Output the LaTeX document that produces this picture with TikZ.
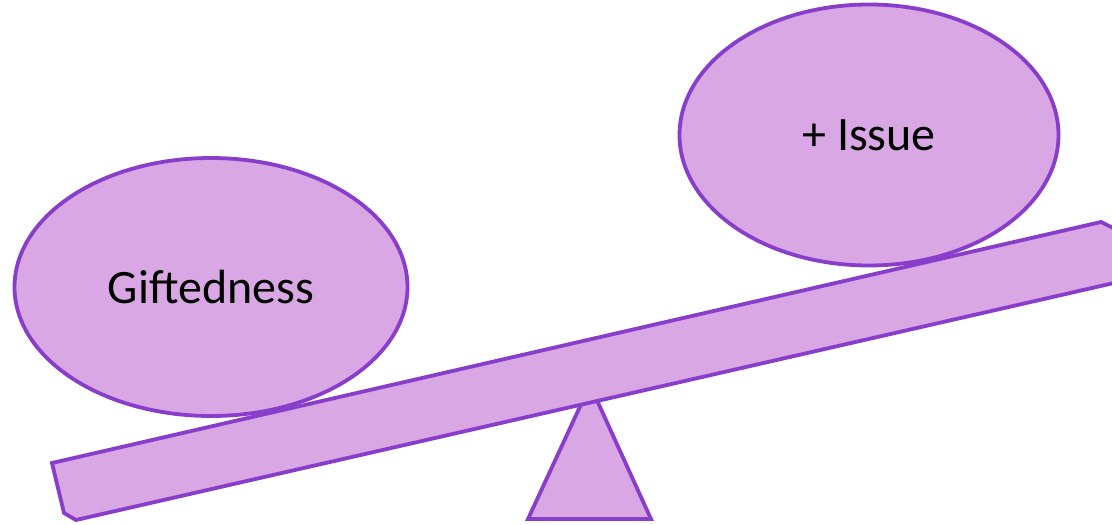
\documentclass[tikz,border=0pt]{standalone}
\usepackage{fontspec}
\setmainfont{Carlito}
\usetikzlibrary{shapes.geometric}
\definecolor{pfill}{RGB}{216,167,228}
\definecolor{pline}{RGB}{136,62,202}
\begin{document}
\begin{tikzpicture}[x=1pt,y=-1pt,
  shapestyle/.style={fill=pfill,draw=pline,line width=3.8pt,line join=miter},
  lbl/.style={font=\fontsize{48}{57}\selectfont,text=black}]
\useasboundingbox (0,0) rectangle (1112,525);
\clip (0,0) rectangle (1112,525);
% fulcrum
\path[shapestyle] (528,519) coordinate (t1) -- (651,519) coordinate (t2) -- (590,385) coordinate (t3) -- cycle;
% ellipses
\node[shapestyle,ellipse,minimum width=393,minimum height=258,inner sep=0] (gift) at (211,287) {};
\node[lbl] (giftlbl) at (gift.center) {Giftedness};
\node[shapestyle,ellipse,minimum width=379,minimum height=261,inner sep=0] (issue) at (869,135) {};
\node[lbl] (issuelbl) at (issue.center) {+ Issue};
% beam
\path[shapestyle] (52,463) coordinate (b1) -- (1101,222) coordinate (b2) -- (1115,229) coordinate (b3)
  -- (1127,280) coordinate (b4) -- (76,520) coordinate (b5) -- (64,513) coordinate (b6) -- cycle;
\end{tikzpicture}
\end{document}
